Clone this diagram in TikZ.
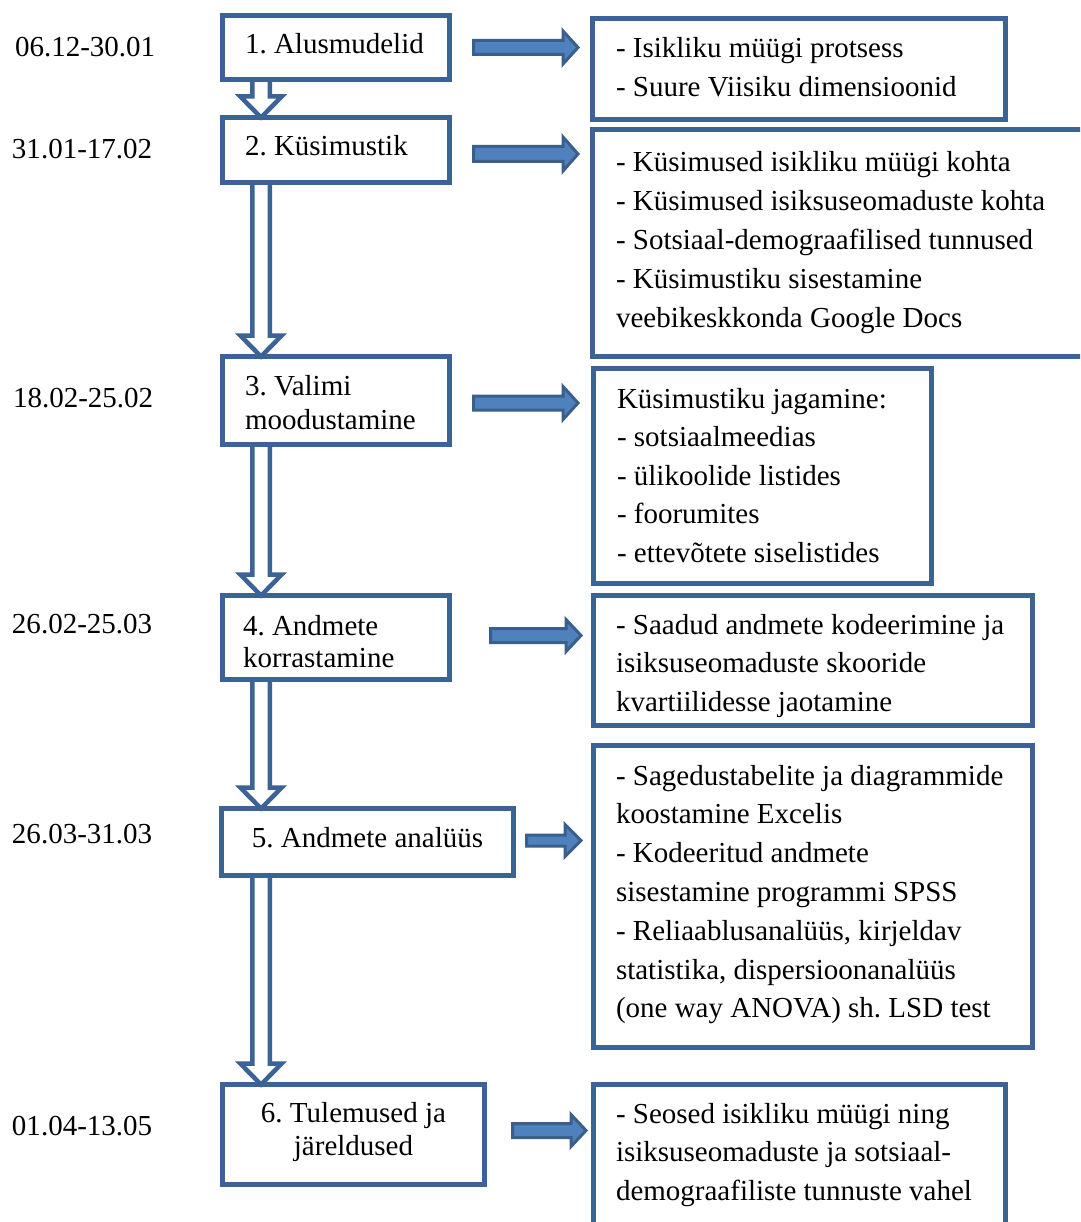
\documentclass[tikz,border=0pt]{standalone}
\usepackage{fontspec}
\setmainfont{Liberation Serif}[Ligatures=NoCommon]
\usetikzlibrary{calc,backgrounds}
\frenchspacing

\definecolor{boxblue}{RGB}{59,99,150}
\definecolor{arrowfill}{RGB}{79,129,189}
\definecolor{arrowline}{RGB}{58,95,141}

% multi-line text blocks, baseline at the first line
\newcommand\leftrows[1]{\begin{tabular}[t]{@{}l@{}}#1\end{tabular}}
\newcommand\midrows[1]{\begin{tabular}[t]{@{}c@{}}#1\end{tabular}}

% hollow block arrow going down: #1 top of shaft, #2 tip
\newcommand\flowdown[2]{%
  \draw[downstyle] let \p1=#1, \p2=#2 in
    (\x1-8.75pt,\y1) -- (\x1-8.75pt,\y2+21pt) -- (\x1-20.75pt,\y2+21pt) -- (\x1,\y2)
    -- (\x1+20.75pt,\y2+21pt) -- (\x1+8.75pt,\y2+21pt) -- (\x1+8.75pt,\y1) -- cycle;}

% filled block arrow going right: #1 tail, #2 tip, #3 shaft half width,
% #4 head half width, #5 head length
\newcommand\flowright[5]{%
  \draw[rightstyle] let \p1=#1, \p2=#2 in
    (\x1,\y1+#3) -- (\x2-#5,\y1+#3) -- (\x2-#5,\y1+#4) -- (\x2,\y1)
    -- (\x2-#5,\y1-#4) -- (\x2-#5,\y1-#3) -- (\x1,\y1-#3) -- cycle;}

\tikzset{
  box/.style={draw=boxblue, line width=5pt, inner sep=0pt, outer sep=0pt,
              anchor=north west, rectangle},
  txt/.style={inner sep=0pt, outer sep=0pt, anchor=base west,
              font=\fontsize{29}{38.8}\selectfont},
  downstyle/.style={draw=boxblue, fill=white, line width=4.5pt, line join=miter},
  rightstyle/.style={draw=arrowline, fill=arrowfill, line width=3pt, line join=miter},
}

\begin{document}
\begin{tikzpicture}[x=1pt, y=-1pt]
\clip (0,0) rectangle (1080,1222);

% dates
\node[txt] (d1) at (15,57)   {06.12-30.01};
\node[txt] (d2) at (12,159)  {31.01-17.02};
\node[txt] (d3) at (13,407)  {18.02-25.02};
\node[txt] (d4) at (12,633)  {26.02-25.03};
\node[txt] (d5) at (12,843)  {26.03-31.03};
\node[txt] (d6) at (12,1135) {01.04-13.05};

% step labels
\node[txt] (t1) at (245,54)  {1. Alusmudelid};
\node[txt] (t2) at (245,156) {2. Küsimustik};
\node[txt, font=\fontsize{29}{34}\selectfont] (t3) at (245,395)
  {\leftrows{3. Valimi\\moodustamine}};
\node[txt, font=\fontsize{29}{32}\selectfont] (t4) at (243,635)
  {\leftrows{4. Andmete\\korrastamine}};
\node[txt, anchor=base] (t5) at (367.5,847) {5. Andmete analüüs};
\node[txt, anchor=base, font=\fontsize{29}{33}\selectfont] (t6) at (353.5,1122)
  {\midrows{6. Tulemused ja\\järeldused}};

% step descriptions
\node[txt] (s1) at (616,58) {\leftrows{%
  - Isikliku müügi protsess\\
  - Suure Viisiku dimensioonid}};
\node[txt] (s2) at (616,172) {\leftrows{%
  - Küsimused isikliku müügi kohta\\
  - Küsimused isiksuseomaduste kohta\\
  - Sotsiaal-demograafilised tunnused\\
  - Küsimustiku sisestamine\\
  veebikeskkonda Google Docs}};
\node[txt, font=\fontsize{29}{38.5}\selectfont] (s3) at (617,408) {\leftrows{%
  Küsimustiku jagamine:\\
  - sotsiaalmeedias\\
  - ülikoolide listides\\
  - foorumites\\
  - ettevõtete siselistides}};
\node[txt] (s4) at (616,634) {\leftrows{%
  - Saadud andmete kodeerimine ja\\
  isiksuseomaduste skooride\\
  kvartiilidesse jaotamine}};
\node[txt] (s5) at (616,785) {\leftrows{%
  - Sagedustabelite ja diagrammide\\
  koostamine Excelis\\
  - Kodeeritud andmete\\
  sisestamine programmi SPSS\\
  - Reliaablusanalüüs, kirjeldav\\
  statistika, dispersioonanalüüs\\
  (one way ANOVA) sh. LSD test}};
\node[txt] (s6) at (616,1123) {\leftrows{%
  - Seosed isikliku müügi ning\\
  isiksuseomaduste ja sotsiaal-\\
  demograafiliste tunnuste vahel}};

% step boxes
\node[box, minimum width=227pt, minimum height=64pt]  (b1) at (222.5,15.5)  {};
\node[box, minimum width=227pt, minimum height=65pt]  (b2) at (222.5,117.5) {};
\node[box, minimum width=227pt, minimum height=88pt]  (b3) at (222.5,356.5) {};
\node[box, minimum width=227pt, minimum height=84pt]  (b4) at (222.5,595.5) {};
\node[box, minimum width=292pt, minimum height=67pt]  (b5) at (221.5,808.5) {};
\node[box, minimum width=262pt, minimum height=100pt] (b6) at (222.5,1084.5) {};

% description boxes
\node[box, minimum width=413pt,   minimum height=101pt] (r1) at (592.5,18.5)  {};
\node[box, minimum width=502.5pt, minimum height=227pt] (r2) at (592.5,129.5) {};
\node[box, minimum width=338pt,   minimum height=215pt] (r3) at (593.5,368.5) {};
\node[box, minimum width=439pt,   minimum height=130pt] (r4) at (593.5,595.5) {};
\node[box, minimum width=439pt,   minimum height=302pt] (r5) at (593.5,745.5) {};
\node[box, minimum width=412pt,   minimum height=155.5pt] (r6) at (593.5,1084.5) {};

\begin{scope}[on background layer]
  \fill[white] (0,0) rectangle (1080,1222);

  % step to step
  \flowdown{($(b1.south west)+(38.5,0)$)}{($(b1.south west |- b2.north)+(38.5,0)$)}
  \flowdown{($(b2.south west)+(38.5,0)$)}{($(b2.south west |- b3.north)+(38.5,0)$)}
  \flowdown{($(b3.south west)+(38.5,0)$)}{($(b3.south west |- b4.north)+(38.5,0)$)}
  \flowdown{($(b4.south west)+(38.5,0)$)}{($(b4.south west |- b5.north)+(39.5,0)$)}
  \flowdown{($(b5.south west)+(39.5,0)$)}{($(b5.south west |- b6.north)+(39.5,0)$)}

  % step to description
  \flowright{($(b1.east)+(24,0)$)}{($(r1.west |- b1.east)+(-14.5,0)$)}{7pt}{16.5pt}{15pt}
  \flowright{($(b2.east)+(24,4)$)}{($(r2.west |- b2.east)+(-14.5,4)$)}{7.5pt}{17pt}{15pt}
  \flowright{($(b3.east)+(24,2.5)$)}{($(r3.west |- b3.east)+(-15.5,2.5)$)}{7pt}{16.5pt}{15pt}
  \flowright{($(b4.east)+(41,-2)$)}{($(r4.west |- b4.east)+(-12.5,-2)$)}{7pt}{16pt}{15pt}
  \flowright{($(b5.east)+(13,-1.5)$)}{($(r5.west |- b5.east)+(-12.5,-1.5)$)}{5.5pt}{16pt}{16pt}
  \flowright{($(b6.east)+(28,-4)$)}{($(r6.west |- b6.east)+(-7.5,-4)$)}{7pt}{16pt}{15pt}
\end{scope}
\end{tikzpicture}
\end{document}
